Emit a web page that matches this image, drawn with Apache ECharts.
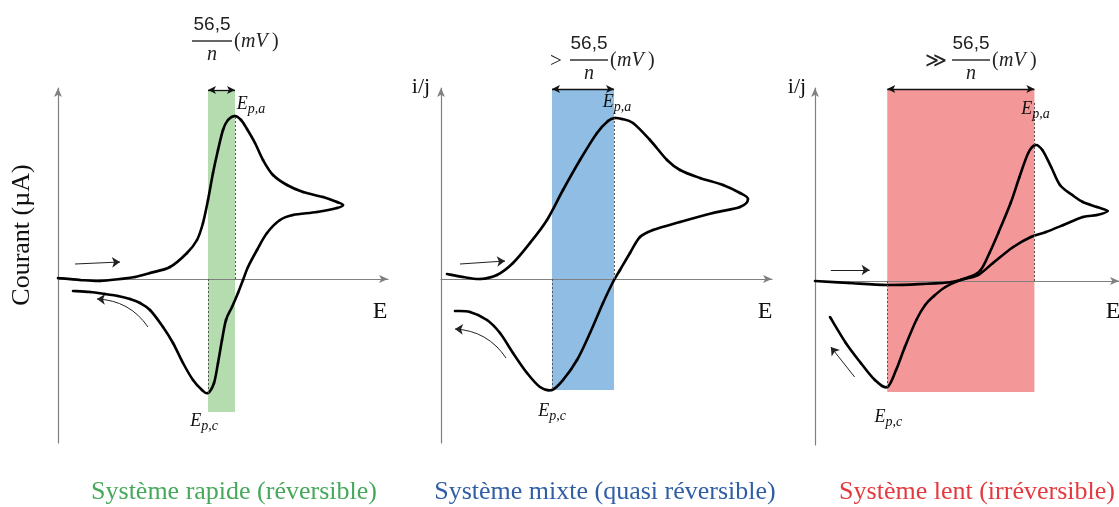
<!DOCTYPE html>
<html>
<head>
<meta charset="utf-8">
<script src="https://cdn.jsdelivr.net/npm/echarts@6/dist/echarts.min.js"></script>
<style>
  html, body { margin: 0; background: #fff; }
  #main { width: 1119px; height: 507px; }
</style>
</head>
<body>
<div id="main"></div>
<script>
// voltammogrammes : [E, i] en unités arbitraires (origine au croisement des axes)
const rapideCourbe = [
  [0, 1], [22, -1], [42, -2], [62, 0], [77, 2], [92, 6], [112, 12], [129, 26], [139, 39],
  [145, 56], [150, 79], [155, 106], [160, 129], [165, 149], [170, 159], [177, 163], [183, 159],
  [189, 150], [197, 136], [205, 119], [215, 104], [229, 94], [245, 87], [265, 82], [279, 77],
  [285, 74], [279, 71], [259, 67], [235, 64], [222, 59], [209, 46], [199, 29], [190, 12],
  [185, -1], [180, -14], [174, -28], [168, -41], [164, -61], [160, -84], [156, -104], [150, -114],
  [144, -111], [135, -101], [125, -84], [115, -64], [105, -48], [92, -31], [82, -24], [72, -20],
  [60, -17], [47, -15], [32, -13], [15, -12]
];
const mixteCourbe = [
  [6, 5], [22, 2], [39, 0], [56, 4], [72, 16], [89, 36], [106, 59], [122, 89], [139, 119],
  [156, 146], [167, 158], [174, 161], [181, 160], [192, 156], [209, 139], [226, 119], [239, 109],
  [259, 101], [282, 94], [299, 86], [307, 80], [299, 72], [272, 66], [239, 57], [212, 49],
  [199, 42], [189, 26], [179, 9], [172, -3], [162, -24], [149, -54], [136, -81], [122, -101],
  [111, -111], [99, -108], [86, -94], [72, -74], [59, -54], [46, -41], [29, -33], [14, -32]
];
const lentCourbe = [
  [0, 0], [38, -2], [82, -4], [122, -3], [155, -1], [175, 4], [188, 11], [198, 28], [208, 48],
  [222, 78], [232, 104], [242, 128], [250, 136], [258, 131], [268, 114], [278, 96], [292, 86],
  [304, 79], [320, 74], [332, 70], [320, 66], [304, 64], [282, 56], [262, 49], [245, 44],
  [225, 34], [202, 18], [185, 6], [165, 1], [148, -6], [135, -15], [125, -24], [115, -39],
  [102, -66], [92, -89], [82, -106], [68, -99], [52, -82], [35, -62], [17, -36]
];
// pics [E, i] : cathodique puis anodique
const rapidePics = [[150, -114], [177, 163]];
const mixtePics = [[111, -111], [173, 161]];
const lentPics = [[82, -106], [249, 136]];
// bandes colorées [haut, bas] entre Ep,c et Ep,a
const rapideBande = [189, -133];
const mixteBande = [190, -111];
const lentBande = [192, -111];
// flèches de sens de balayage [départ, arrivée]
const rapideFleches = [[[17, 15], [62, 17]], [[90, -48], [39, -20]]];
const mixteFleches = [[[19, 15], [64, 18]], [[65, -79], [14, -50]]];
const lentFleches = [[[18, 11], [62, 11]], [[45, -96], [18, -66]]];
const titres = ['Système rapide (réversible)', 'Système mixte (quasi réversible)', 'Système lent (irréversible)'];
const prefixes = ['', '>', '≫'];

const serif = '"Liberation Serif", "DejaVu Serif", serif';

const panneaux = [
  { left: 58, top: 88, width: 330, height: 355, ymin: -164, ymax: 191, xmax: 330,
    courbe: rapideCourbe, pics: rapidePics, bande: rapideBande, fleches: rapideFleches,
    fond: '#b4dcae', texte: '#46a85b', courbure: -0.25,
    offA: [16, -12], offC: [-4, 28] },
  { left: 441, top: 88, width: 331, height: 355, ymin: -164, ymax: 191, xmax: 331,
    courbe: mixteCourbe, pics: mixtePics, bande: mixteBande, fleches: mixteFleches,
    fond: '#8fbde3', texte: '#2f5ea6', courbure: -0.25,
    offA: [3, -16], offC: [0, 21] },
  { left: 815, top: 88, width: 345, height: 357, ymin: -164, ymax: 193, xmax: 345,
    courbe: lentCourbe, pics: lentPics, bande: lentBande, fleches: lentFleches,
    fond: '#f49799', texte: '#e23a3e', courbure: 0,
    offA: [1, -36], offC: [1, 30] }
];

// segment de Catmull-Rom entre les points i et i+1 (en pixels via api.coord)
function segment(courbe, i, api) {
  if (i >= courbe.length - 1) return null;
  const P = j => api.coord(courbe[Math.max(0, Math.min(courbe.length - 1, j))]);
  const p0 = P(i - 1), p1 = P(i), p2 = P(i + 1), p3 = P(i + 2);
  const t = 1 / 6;
  return {
    type: 'bezierCurve',
    shape: {
      x1: p1[0], y1: p1[1], x2: p2[0], y2: p2[1],
      cpx1: p1[0] + (p2[0] - p0[0]) * t, cpy1: p1[1] + (p2[1] - p0[1]) * t,
      cpx2: p2[0] - (p3[0] - p1[0]) * t, cpy2: p2[1] - (p3[1] - p1[1]) * t
    },
    style: { stroke: '#000', lineWidth: 2.6, fill: null, lineCap: 'round' }
  };
}

const grid = [], xAxis = [], yAxis = [], series = [];
panneaux.forEach((p, k) => {
  grid.push({ left: p.left, top: p.top, width: p.width, height: p.height });
  xAxis.push({
    type: 'value', gridIndex: k, min: 0, max: p.xmax, z: 2,
    axisLine: { onZero: true, symbol: ['none', 'arrow'], symbolSize: [6, 9],
      lineStyle: { color: '#808080', width: 1.2 } },
    axisTick: { show: false }, axisLabel: { show: false }, splitLine: { show: false }
  });
  yAxis.push({
    type: 'value', gridIndex: k, min: p.ymin, max: p.ymax, z: 2,
    axisLine: { symbol: ['none', 'arrow'], symbolSize: [6, 9],
      lineStyle: { color: '#808080', width: 1.2 } },
    axisTick: { show: false }, axisLabel: { show: false }, splitLine: { show: false }
  });
  const [pc, pa] = p.pics;
  const lab = { show: false };
  const noir = { color: '#111', width: 1.3, type: 'solid' };
  const pointille = { color: '#555', width: 1, type: [2, 2] };
  // bande colorée, double flèche et pointillés
  series.push({
    type: 'line', xAxisIndex: k, yAxisIndex: k, data: [], z: 1,
    markArea: {
      silent: true,
      itemStyle: { color: p.fond },
      data: [[{ coord: [pc[0], p.bande[0]] }, { coord: [pa[0], p.bande[1]] }]]
    },
    markLine: {
      silent: true, animation: false, symbol: 'none', label: lab,
      lineStyle: { type: 'solid', color: '#333', width: 1 },
      data: [
        [{ coord: [pc[0], p.bande[0]], symbol: 'arrow', symbolSize: [6, 8], lineStyle: noir, label: lab },
         { coord: [pa[0], p.bande[0]], symbol: 'arrow', symbolSize: [6, 8] }],
        [{ coord: [pc[0], 0], lineStyle: pointille, label: lab }, { coord: [pc[0], pc[1]] }],
        [{ coord: [pa[0], 0], lineStyle: pointille, label: lab },
         { coord: [pa[0], k === 2 ? p.bande[0] - 12 : pa[1]] }]
      ]
    },
    markPoint: {
      silent: true, animation: false, symbol: 'circle', symbolSize: 1,
      itemStyle: { color: 'rgba(0,0,0,0)' },
      label: {
        show: true, color: '#111',
        rich: {
          e: { fontFamily: serif, fontStyle: 'italic', fontSize: 18, color: '#111' },
          s: { fontFamily: serif, fontStyle: 'italic', fontSize: 14, color: '#111', padding: [11, 0, 0, 0] }
        }
      },
      data: [
        { coord: pa, label: { formatter: '{e|E}{s|p,a}', offset: p.offA } },
        { coord: pc, label: { formatter: '{e|E}{s|p,c}', offset: p.offC } }
      ]
    }
  });
  // flèches de sens de balayage
  series.push({
    type: 'lines', coordinateSystem: 'cartesian2d', xAxisIndex: k, yAxisIndex: k, z: 3,
    silent: true, symbol: ['none', 'arrow'], symbolSize: [5, 8],
    lineStyle: { opacity: 1 },
    data: [
      { coords: p.fleches[0], lineStyle: { color: '#222', width: 1, opacity: 1, curveness: 0 } },
      { coords: p.fleches[1], lineStyle: { color: '#222', width: 1, opacity: 1, curveness: p.courbure } }
    ]
  });
  // voltammogramme
  series.push({
    type: 'custom', xAxisIndex: k, yAxisIndex: k, z: 4, silent: true,
    data: p.courbe,
    renderItem: (params, api) => segment(p.courbe, params.dataIndex, api)
  });
});

// titres 56,5/n (mV), noms d'axes et légendes
const graphic = [];
const fractions = [
  { cx: 212, y: 25, x1: 192, x2: 232, pre: 0 },
  { cx: 589, y: 44, x1: 570, x2: 608, pre: 556 },
  { cx: 971, y: 44, x1: 952, x2: 990, pre: 936 }
];
const txt = (x, y, text, font, fill, align) => ({
  type: 'text', x: x, y: y, silent: true,
  style: { text: text, font: font, fill: fill || '#222', align: align || 'center', verticalAlign: 'middle',
    textAlign: align || 'center', textVerticalAlign: 'middle' }
});
fractions.forEach((f, k) => {
  graphic.push(txt(f.cx, f.y, '56,5', '19px "Liberation Sans", sans-serif'));
  graphic.push({ type: 'line', silent: true, shape: { x1: f.x1, y1: f.y + 16, x2: f.x2, y2: f.y + 16 },
    style: { stroke: '#333', lineWidth: 1.3 } });
  graphic.push(txt(f.cx, f.y + 30, 'n', 'italic 20px ' + serif));
  graphic.push(txt(f.x2 + 2, f.y + 17, '(', '20px ' + serif, '#222', 'left'));
  graphic.push(txt(f.x2 + 9, f.y + 17, 'mV', 'italic 20px ' + serif, '#222', 'left'));
  graphic.push(txt(f.x2 + 40, f.y + 17, ')', '20px ' + serif, '#222', 'left'));
  if (prefixes[k]) graphic.push(txt(f.pre, f.y + 17, prefixes[k], '21px ' + serif));
});
const nomY = txt(22, 235, 'Courant (µA)', '26px ' + serif, '#111');
nomY.rotation = Math.PI / 2;
graphic.push(nomY);
[380, 765, 1113].forEach(x => graphic.push(txt(x, 312, 'E', '24px ' + serif, '#111')));
[421, 797].forEach(x => graphic.push(txt(x, 87, 'i/j', '22px ' + serif, '#111')));
[234, 605, 977].forEach((x, k) => graphic.push(txt(x, 492, titres[k], '26px ' + serif, panneaux[k].texte)));

const chart = echarts.init(document.getElementById('main'));
chart.setOption({
  animation: false,
  backgroundColor: '#fff',
  grid: grid,
  xAxis: xAxis,
  yAxis: yAxis,
  series: series,
  graphic: graphic
});
</script>
</body>
</html>
